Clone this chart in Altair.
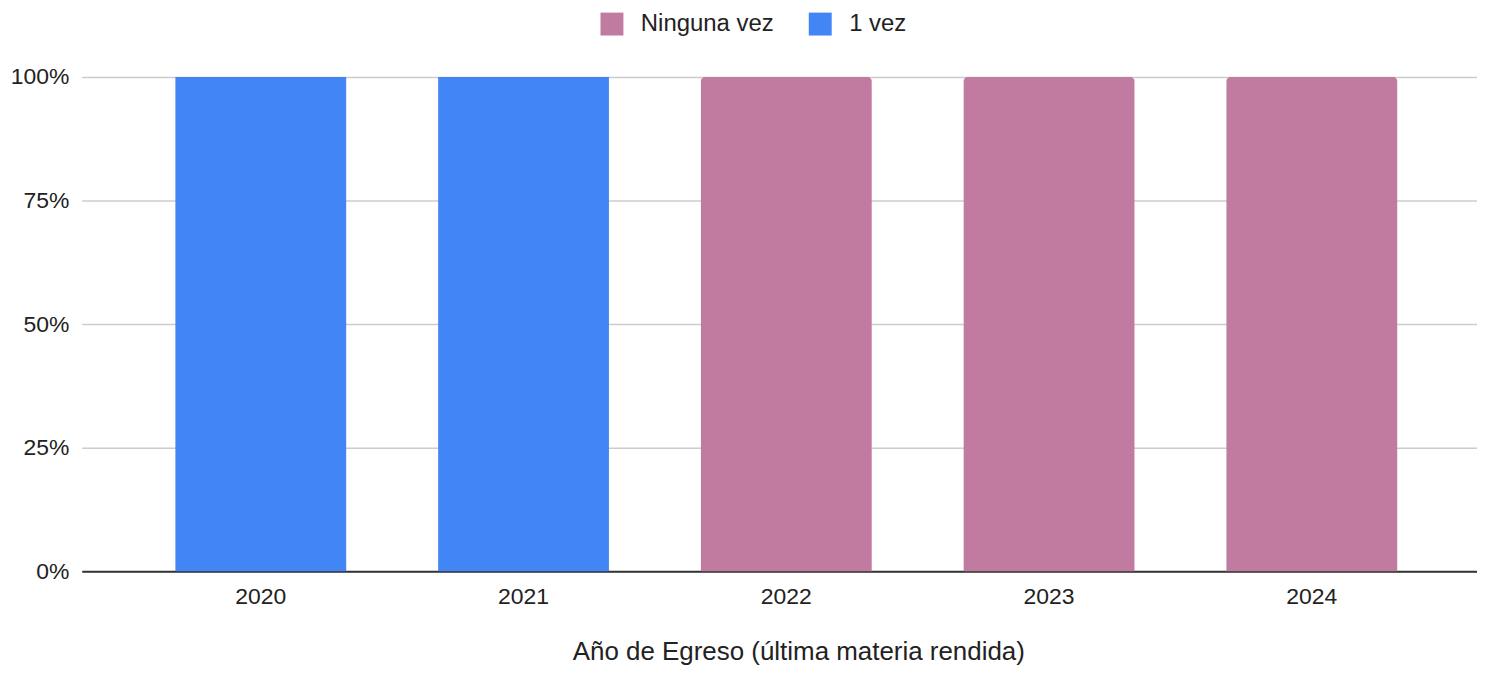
import altair as alt
import pandas as pd

years = ["2020", "2021", "2022", "2023", "2024"]
ninguna_vez = [0, 0, 100, 100, 100]
una_vez = [100, 100, 0, 0, 0]
series = ["Ninguna vez", "1 vez"]
colors = ["#c27ba0", "#4285f4"]

rows = []
for i, y in enumerate(years):
    rows.append({"year": y, "serie": "Ninguna vez", "pct": ninguna_vez[i]})
    rows.append({"year": y, "serie": "1 vez", "pct": una_vez[i]})
df = pd.DataFrame(rows)

FONT = "Liberation Sans"

base = alt.Chart(df).transform_filter("datum.pct > 0").transform_calculate(
    frac="datum.pct / 100"
)

x = alt.X(
    "year:N",
    title="Año de Egreso (última materia rendida)",
    sort=years,
    scale=alt.Scale(paddingInner=0.35, paddingOuter=0.33, align=0.54, round=False),
    axis=alt.Axis(
        labelAngle=0,
        labelFontSize=23,
        labelColor="#222222",
        labelFont=FONT,
        labelPadding=14,
        ticks=False,
        domainColor="#333333",
        domainWidth=2,
        titleFontSize=26,
        titleFont=FONT,
        titleFontWeight="normal",
        titleColor="#222222",
        titlePadding=31,
        titleX=719,
    ),
)
y = alt.Y(
    "frac:Q",
    title=None,
    scale=alt.Scale(domain=[0, 1]),
    stack=None,
    axis=alt.Axis(
        values=[0, 0.25, 0.5, 0.75, 1],
        format="%",
        labelFontSize=23,
        labelColor="#222222",
        labelFont=FONT,
        labelPadding=13,
        ticks=False,
        domain=False,
        gridColor="#cccccc",
        gridWidth=1.5,
    ),
)
color = alt.Color(
    "serie:N",
    scale=alt.Scale(domain=series, range=colors),
    sort=series,
    legend=alt.Legend(
        title=None,
        orient="none",
        direction="horizontal",
        legendX=520,
        legendY=-65,
        padding=0,
        symbolType="square",
        symbolSize=529,
        symbolStrokeWidth=0,
        symbolOpacity=1,
        labelFontSize=24,
        labelFont=FONT,
        labelColor="#222222",
        labelOffset=17,
        columnPadding=34,
    ),
)

pink = base.transform_filter("datum.serie == 'Ninguna vez'").mark_bar(
    cornerRadiusTopLeft=4, cornerRadiusTopRight=4
).encode(x=x, y=y, color=color)
blue = base.transform_filter("datum.serie == '1 vez'").mark_bar().encode(
    x=x, y=y, color=color
)

chart = (
    alt.layer(pink, blue)
    .properties(
        width=1400,
        height=496,
        autosize=alt.AutoSizeParams(type="none"),
        padding={"left": 74, "top": 68, "right": 0, "bottom": 101},
    )
    .configure_view(stroke=None)
)

chart.save("out.html", embed_options={"renderer": "svg", "actions": False})
